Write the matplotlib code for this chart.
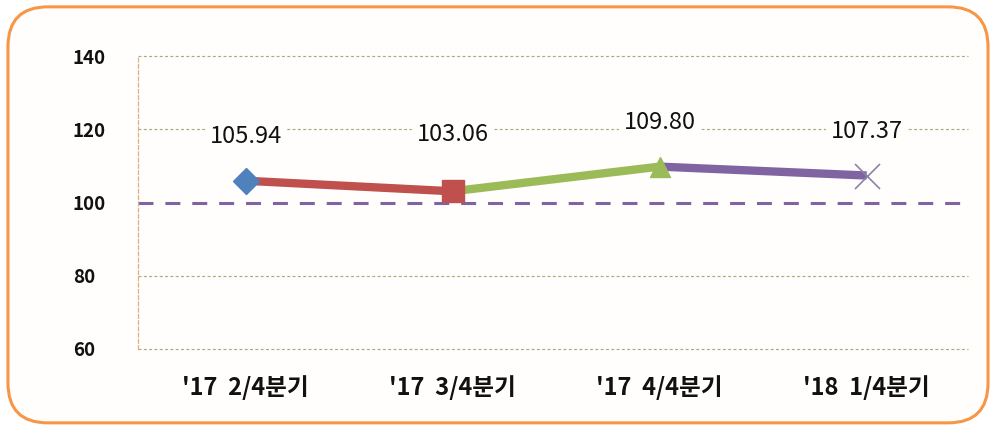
import matplotlib
matplotlib.use("Agg")
import matplotlib.pyplot as plt
from matplotlib.patches import FancyBboxPatch

plt.rcParams['font.family'] = ['Noto Sans CJK KR', 'DejaVu Sans']

categories = ["'17  2/4분기", "'17  3/4분기", "'17  4/4분기", "'18  1/4분기"]
values = [105.94, 103.06, 109.80, 107.37]
labels = ["105.94", "103.06", "109.80", "107.37"]
yticks = [60, 80, 100, 120, 140]
baseline = 100

seg_colors = ["#C0504D", "#9BBB59", "#8064A2"]
markers = ["D", "s", "^", "x"]
marker_colors = ["#4F81BD", "#C0504D", "#9BBB59", "#8C84A8"]
marker_sizes = [13, 16.5, 15, 18]
label_offsets = [44, 57, 44, 44]  # pixels

fig = plt.figure(figsize=(9.96, 4.28), dpi=100)
fig.patch.set_facecolor("white")
frame = FancyBboxPatch((0.008, 0.012), 0.984, 0.972,
                       boxstyle="round,pad=0,rounding_size=0.04",
                       transform=fig.transFigure, facecolor="#FFFEFC",
                       edgecolor="#F79646", linewidth=2.2, zorder=-5,
                       mutation_aspect=996/428)
fig.patches.append(frame)

ax = fig.add_axes([138/996, 1 - 349/428, (968-138)/996, (349-56)/428])
ax.set_zorder(2)
ax.set_facecolor("none")
x = list(range(len(values)))
ax.set_xlim(-0.52, 3.49)
ax.set_ylim(60, 140)

for i in range(len(values) - 1):
    ax.plot(x[i:i+2], values[i:i+2], color=seg_colors[i], lw=6,
            solid_capstyle="butt", zorder=3)
for i in range(len(values)):
    if markers[i] == "x":
        ax.plot(x[i], values[i], marker="x", color=marker_colors[i], ms=marker_sizes[i],
                mew=1.2, zorder=4)
    else:
        ax.plot(x[i], values[i], marker=markers[i], color=marker_colors[i],
                ms=marker_sizes[i], mec=marker_colors[i], zorder=4)
    ax.annotate(labels[i], (x[i], values[i]), xytext=(0, label_offsets[i] * 0.72),
                textcoords="offset points", ha="center", va="center",
                fontsize=17, color="#111111", zorder=5,
                bbox=dict(facecolor="#FFFEFC", edgecolor="none", pad=3))

ax.axhline(baseline, color="#8064A2", lw=2.2, ls=(0, (4.9, 3.9)), zorder=2)
ax.set_yticks(yticks)
ax.set_yticklabels([str(v) for v in yticks], fontsize=13.5, fontweight="bold")
ax.set_xticks(x)
ax.set_xticklabels(categories, fontsize=17, fontweight="bold")
for yv in yticks:
    if yv != baseline:
        ax.axhline(yv, color="#A8AD7A", lw=0.85, ls=(0, (2.5, 2)), zorder=1,
                   clip_on=False)

for s in ["top", "right", "bottom"]:
    ax.spines[s].set_visible(False)
ax.spines["left"].set_color("#E0B080")
ax.spines["left"].set_linestyle((0, (3, 2)))
ax.spines["left"].set_linewidth(0.9)
ax.tick_params(axis="both", length=0, colors="#111111")
ax.tick_params(axis="y", pad=47)
ax.tick_params(axis="x", pad=19)
for t in ax.get_yticklabels():
    t.set_horizontalalignment("left")

fig.savefig("out.png", dpi=100)
